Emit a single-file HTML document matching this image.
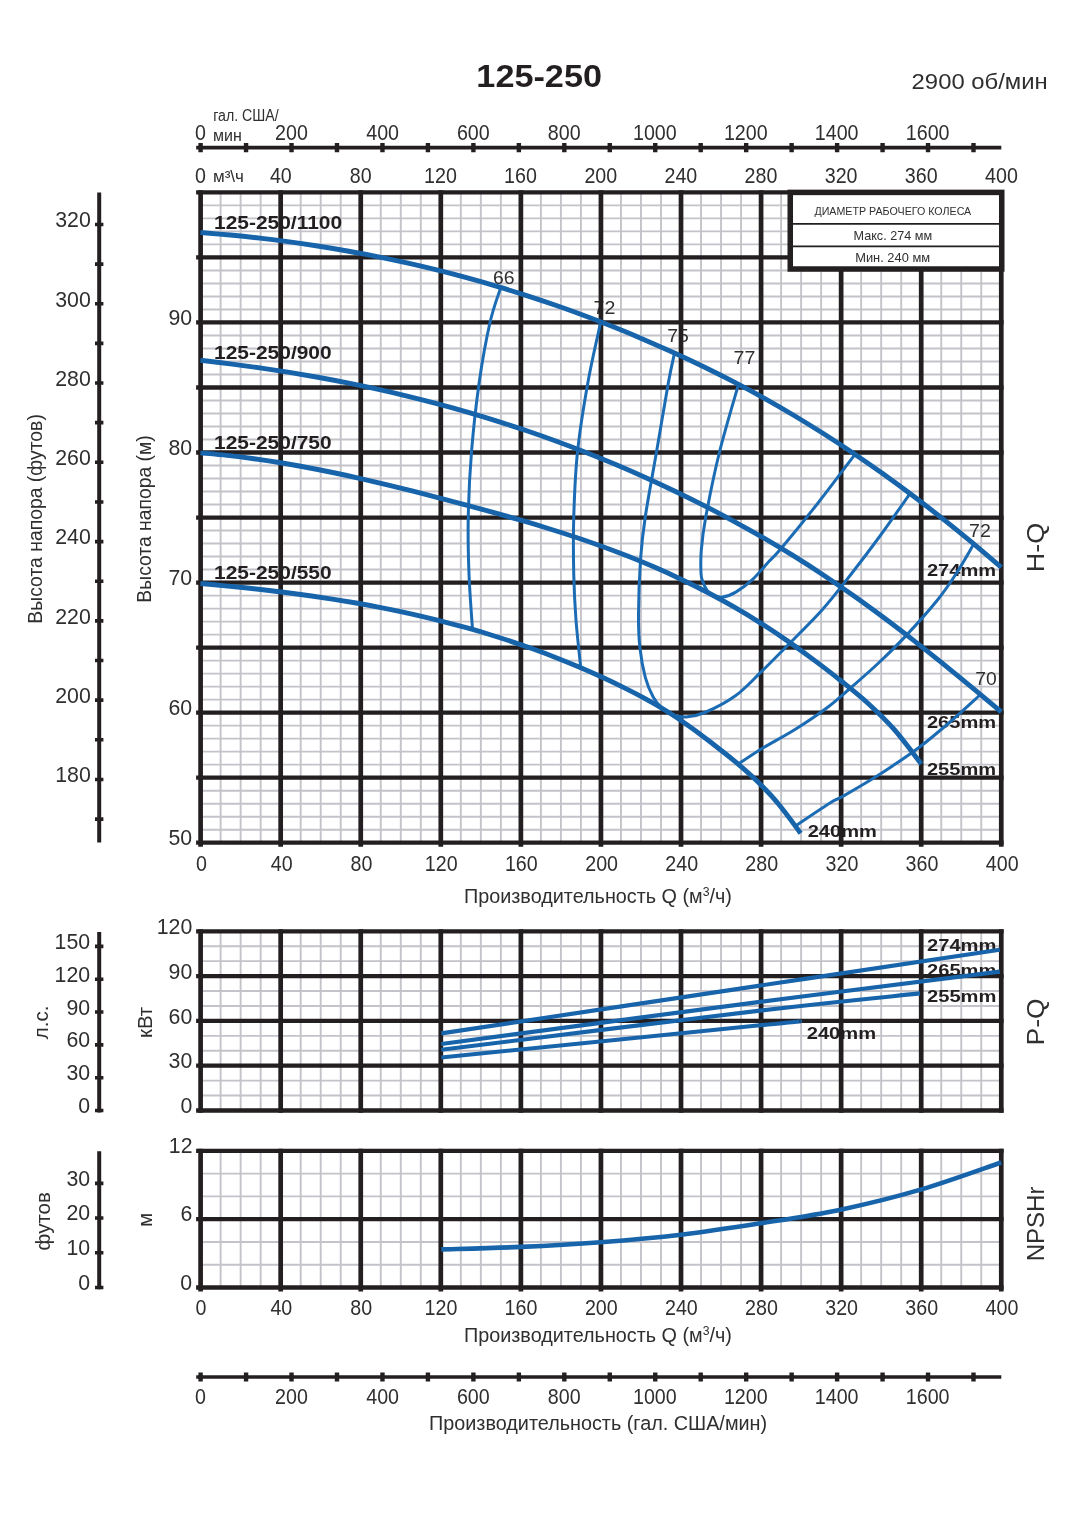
<!DOCTYPE html>
<html lang="ru"><head><meta charset="utf-8"><title>125-250</title>
<style>html,body{margin:0;padding:0;background:#fff}svg{display:block}text{font-family:'Liberation Sans', Arial, sans-serif}</style></head><body>
<svg width="1088" height="1538" viewBox="0 0 1088 1538">
<rect width="1088" height="1538" fill="#fff"/>
<text x="476.35" y="87.3" font-size="32" text-anchor="start" fill="#231f20" font-weight="bold" textLength="125.63" lengthAdjust="spacingAndGlyphs" >125-250</text>
<text x="911.61" y="89" font-size="22.4" text-anchor="start" fill="#302e2f" textLength="136.1" lengthAdjust="spacingAndGlyphs" >2900 об/мин</text>
<line x1="196.2" y1="147.6" x2="1001.3" y2="147.6" stroke="#231f20" stroke-width="3.6" />
<path d="M200.6 143V152.2M246.06 143V152.2M291.53 143V152.2M336.99 143V152.2M382.46 143V152.2M427.92 143V152.2M473.39 143V152.2M518.85 143V152.2M564.32 143V152.2M609.78 143V152.2M655.25 143V152.2M700.71 143V152.2M746.18 143V152.2M791.64 143V152.2M837.11 143V152.2M882.57 143V152.2M928.03 143V152.2M973.5 143V152.2" fill="none" stroke="#231f20" stroke-width="4.4" />
<text x="195.1" y="140" font-size="21.6" text-anchor="start" fill="#302e2f" textLength="10.93" lengthAdjust="spacingAndGlyphs" >0</text>
<text x="275.02" y="140" font-size="21.6" text-anchor="start" fill="#302e2f" textLength="32.8" lengthAdjust="spacingAndGlyphs" >200</text>
<text x="366.24" y="140" font-size="21.6" text-anchor="start" fill="#302e2f" textLength="32.8" lengthAdjust="spacingAndGlyphs" >400</text>
<text x="456.88" y="140" font-size="21.6" text-anchor="start" fill="#302e2f" textLength="32.8" lengthAdjust="spacingAndGlyphs" >600</text>
<text x="547.86" y="140" font-size="21.6" text-anchor="start" fill="#302e2f" textLength="32.8" lengthAdjust="spacingAndGlyphs" >800</text>
<text x="632.99" y="140" font-size="21.6" text-anchor="start" fill="#302e2f" textLength="43.73" lengthAdjust="spacingAndGlyphs" >1000</text>
<text x="723.92" y="140" font-size="21.6" text-anchor="start" fill="#302e2f" textLength="43.73" lengthAdjust="spacingAndGlyphs" >1200</text>
<text x="814.84" y="140" font-size="21.6" text-anchor="start" fill="#302e2f" textLength="43.73" lengthAdjust="spacingAndGlyphs" >1400</text>
<text x="905.77" y="140" font-size="21.6" text-anchor="start" fill="#302e2f" textLength="43.73" lengthAdjust="spacingAndGlyphs" >1600</text>
<text x="213.21" y="121.2" font-size="15.6" text-anchor="start" fill="#302e2f" textLength="65.55" lengthAdjust="spacingAndGlyphs" >гал. США/</text>
<text x="213.08" y="141.4" font-size="15.6" text-anchor="start" fill="#302e2f" textLength="28.82" lengthAdjust="spacingAndGlyphs" >мин</text>
<text x="195.1" y="183.3" font-size="21.6" text-anchor="start" fill="#302e2f" textLength="10.93" lengthAdjust="spacingAndGlyphs" >0</text>
<text x="269.91" y="183.3" font-size="21.6" text-anchor="start" fill="#302e2f" textLength="21.86" lengthAdjust="spacingAndGlyphs" >40</text>
<text x="349.73" y="183.3" font-size="21.6" text-anchor="start" fill="#302e2f" textLength="21.86" lengthAdjust="spacingAndGlyphs" >80</text>
<text x="424.05" y="183.3" font-size="21.6" text-anchor="start" fill="#302e2f" textLength="32.8" lengthAdjust="spacingAndGlyphs" >120</text>
<text x="504.12" y="183.3" font-size="21.6" text-anchor="start" fill="#302e2f" textLength="32.8" lengthAdjust="spacingAndGlyphs" >160</text>
<text x="584.43" y="183.3" font-size="21.6" text-anchor="start" fill="#302e2f" textLength="32.8" lengthAdjust="spacingAndGlyphs" >200</text>
<text x="664.5" y="183.3" font-size="21.6" text-anchor="start" fill="#302e2f" textLength="32.8" lengthAdjust="spacingAndGlyphs" >240</text>
<text x="744.56" y="183.3" font-size="21.6" text-anchor="start" fill="#302e2f" textLength="32.8" lengthAdjust="spacingAndGlyphs" >280</text>
<text x="824.73" y="183.3" font-size="21.6" text-anchor="start" fill="#302e2f" textLength="32.8" lengthAdjust="spacingAndGlyphs" >320</text>
<text x="904.8" y="183.3" font-size="21.6" text-anchor="start" fill="#302e2f" textLength="32.8" lengthAdjust="spacingAndGlyphs" >360</text>
<text x="985.06" y="183.3" font-size="21.6" text-anchor="start" fill="#302e2f" textLength="32.8" lengthAdjust="spacingAndGlyphs" >400</text>
<text x="213.01" y="181.9" font-size="15.6" text-anchor="start" fill="#302e2f" textLength="30.97" lengthAdjust="spacingAndGlyphs" >м³\ч</text>
<path d="M220.62 192.4V842.7M240.63 192.4V842.7M260.65 192.4V842.7M300.69 192.4V842.7M320.7 192.4V842.7M340.72 192.4V842.7M380.75 192.4V842.7M400.77 192.4V842.7M420.79 192.4V842.7M460.82 192.4V842.7M480.84 192.4V842.7M500.86 192.4V842.7M540.89 192.4V842.7M560.91 192.4V842.7M580.92 192.4V842.7M620.96 192.4V842.7M640.97 192.4V842.7M660.99 192.4V842.7M701.02 192.4V842.7M721.04 192.4V842.7M741.06 192.4V842.7M781.09 192.4V842.7M801.11 192.4V842.7M821.13 192.4V842.7M861.16 192.4V842.7M881.18 192.4V842.7M901.2 192.4V842.7M941.23 192.4V842.7M961.25 192.4V842.7M981.26 192.4V842.7M200.6 205.41H1001.28M200.6 218.41H1001.28M200.6 231.42H1001.28M200.6 244.42H1001.28M200.6 270.44H1001.28M200.6 283.44H1001.28M200.6 296.45H1001.28M200.6 309.45H1001.28M200.6 335.47H1001.28M200.6 348.47H1001.28M200.6 361.48H1001.28M200.6 374.48H1001.28M200.6 400.5H1001.28M200.6 413.5H1001.28M200.6 426.51H1001.28M200.6 439.51H1001.28M200.6 465.53H1001.28M200.6 478.53H1001.28M200.6 491.54H1001.28M200.6 504.54H1001.28M200.6 530.56H1001.28M200.6 543.56H1001.28M200.6 556.57H1001.28M200.6 569.57H1001.28M200.6 595.59H1001.28M200.6 608.59H1001.28M200.6 621.6H1001.28M200.6 634.6H1001.28M200.6 660.62H1001.28M200.6 673.62H1001.28M200.6 686.63H1001.28M200.6 699.63H1001.28M200.6 725.65H1001.28M200.6 738.65H1001.28M200.6 751.66H1001.28M200.6 764.66H1001.28M200.6 790.68H1001.28M200.6 803.68H1001.28M200.6 816.69H1001.28M200.6 829.69H1001.28" fill="none" stroke="#c3c3c9" stroke-width="1.9" />
<text x="214.04" y="229.3" font-size="17.6" text-anchor="start" fill="#231f20" font-weight="bold" textLength="128.09" lengthAdjust="spacingAndGlyphs" >125-250/1100</text>
<text x="214.04" y="359" font-size="17.6" text-anchor="start" fill="#231f20" font-weight="bold" textLength="117.62" lengthAdjust="spacingAndGlyphs" >125-250/900</text>
<text x="214.04" y="449" font-size="17.6" text-anchor="start" fill="#231f20" font-weight="bold" textLength="117.62" lengthAdjust="spacingAndGlyphs" >125-250/750</text>
<text x="214.04" y="578.6" font-size="17.6" text-anchor="start" fill="#231f20" font-weight="bold" textLength="117.62" lengthAdjust="spacingAndGlyphs" >125-250/550</text>
<text x="493.03" y="283.8" font-size="18.5" text-anchor="start" fill="#302e2f" textLength="21.59" lengthAdjust="spacingAndGlyphs" >66</text>
<text x="593.52" y="313.8" font-size="18.5" text-anchor="start" fill="#302e2f" textLength="21.81" lengthAdjust="spacingAndGlyphs" >72</text>
<text x="667.33" y="342" font-size="18.5" text-anchor="start" fill="#302e2f" textLength="21.59" lengthAdjust="spacingAndGlyphs" >75</text>
<text x="733.62" y="364.3" font-size="18.5" text-anchor="start" fill="#302e2f" textLength="21.81" lengthAdjust="spacingAndGlyphs" >77</text>
<text x="969.02" y="536.5" font-size="18.5" text-anchor="start" fill="#302e2f" textLength="21.81" lengthAdjust="spacingAndGlyphs" >72</text>
<text x="975.33" y="685.3" font-size="18.5" text-anchor="start" fill="#302e2f" textLength="21.49" lengthAdjust="spacingAndGlyphs" >70</text>
<text x="926.9" y="575.9" font-size="16.6" text-anchor="start" fill="#231f20" font-weight="bold" textLength="69.24" lengthAdjust="spacingAndGlyphs" >274mm</text>
<text x="926.9" y="727.8" font-size="16.6" text-anchor="start" fill="#231f20" font-weight="bold" textLength="69.24" lengthAdjust="spacingAndGlyphs" >265mm</text>
<text x="926.9" y="775" font-size="16.6" text-anchor="start" fill="#231f20" font-weight="bold" textLength="69.24" lengthAdjust="spacingAndGlyphs" >255mm</text>
<text x="807.7" y="837" font-size="16.6" text-anchor="start" fill="#231f20" font-weight="bold" textLength="69.24" lengthAdjust="spacingAndGlyphs" >240mm</text>
<path d="M200.6 190.3V846.7M280.67 190.3V846.7M360.74 190.3V846.7M440.8 190.3V846.7M520.87 190.3V846.7M600.94 190.3V846.7M681.01 190.3V846.7M761.08 190.3V846.7M841.14 190.3V846.7M921.21 190.3V846.7M1001.28 190.3V846.7" fill="none" stroke="#231f20" stroke-width="4.7" />
<path d="M196.1 192.4H1003.58M196.1 257.43H1003.58M196.1 322.46H1003.58M196.1 387.49H1003.58M196.1 452.52H1003.58M196.1 517.55H1003.58M196.1 582.58H1003.58M196.1 647.61H1003.58M196.1 712.64H1003.58M196.1 777.67H1003.58M196.1 842.7H1003.58" fill="none" stroke="#231f20" stroke-width="4.3" />
<path d="M500.75 287.51C498.96 293.34 493.58 306.75 490 322.5C486.42 338.25 482.33 360.42 479.25 382C476.17 403.58 473.33 429.5 471.5 452C469.67 474.5 468.67 496.67 468.25 517C467.83 537.33 468.29 555.26 469 574C469.71 592.74 471.92 620.22 472.5 629.46" fill="none" stroke="#1b6cb4" stroke-width="3.0" stroke-linecap="butt"/>
<path d="M600.75 321.9C598.62 331.92 591.88 360.32 588 382C584.12 403.68 579.88 429.5 577.5 452C575.12 474.5 574.38 496.67 573.75 517C573.12 537.33 573.38 556.83 573.75 574C574.12 591.17 574.83 604.38 576 620C577.17 635.62 579.96 659.78 580.75 667.74" fill="none" stroke="#1b6cb4" stroke-width="3.0" stroke-linecap="butt"/>
<path d="M674.5 353.03C673.5 357.86 671.5 365.51 668.5 382C665.5 398.49 660.38 429.5 656.5 452C652.62 474.5 647.92 499 645.25 517C642.58 535 641.62 543.75 640.5 560C639.38 576.25 638.6 599.92 638.5 614.5C638.4 629.08 638.77 637.03 639.9 647.5C641.03 657.97 643.07 669.02 645.3 677.3C647.53 685.58 650.42 691.95 653.3 697.2C656.18 702.45 659.4 705.9 662.6 708.8C665.8 711.7 668.57 713.23 672.5 714.6C676.43 715.97 680.62 717.43 686.2 717C691.78 716.57 697.73 715.58 706 712C714.27 708.42 726.7 702.1 735.8 695.5C744.9 688.9 752.07 680.65 760.6 672.4C769.13 664.15 776.68 656.48 787 646C797.32 635.52 811.79 621.5 822.5 609.5C833.21 597.5 841.67 586.25 851.25 574C860.83 561.75 870.21 549.4 880 536C889.79 522.6 905 500.66 910 493.59" fill="none" stroke="#1b6cb4" stroke-width="3.0" stroke-linecap="butt"/>
<path d="M738.5 384.35C735.33 395.63 724.96 429.89 719.5 452C714.04 474.11 708.78 500.67 705.75 517C702.72 533.33 702.09 540.67 701.3 550C700.51 559.33 700.77 567.77 701 573C701.23 578.23 701.58 578.35 702.7 581.4C703.82 584.45 706.03 588.97 707.7 591.3C709.37 593.63 710.22 594.43 712.7 595.4C715.18 596.37 718.75 597.65 722.6 597.1C726.45 596.55 730.83 595 735.8 592.1C740.77 589.2 746.88 584.8 752.4 579.7C757.92 574.6 764.08 566.73 768.9 561.5C773.72 556.27 773.12 558.05 781.3 548.3C789.48 538.55 805.72 518.66 818 503C830.28 487.34 848.83 462.46 855 454.35" fill="none" stroke="#1b6cb4" stroke-width="3.0" stroke-linecap="butt"/>
<path d="M973.75 544.01C970.79 549.01 962.04 564.67 956 574C949.96 583.33 945.82 589.73 937.5 600C929.18 610.27 916.02 625.02 906.1 635.6C896.18 646.18 887.37 654.68 878 663.5C868.63 672.32 858.57 681 849.9 688.5C841.23 696 835.15 701.67 826 708.5C816.85 715.33 805.79 722.75 795 729.5C784.21 736.25 770.72 743.23 761.25 749C751.78 754.77 742.04 761.62 738.2 764.14" fill="none" stroke="#1b6cb4" stroke-width="3.0" stroke-linecap="butt"/>
<path d="M980.5 694.5C975.42 699.08 960.2 713.2 950 722C939.8 730.8 928.88 739.97 919.3 747.3C909.72 754.63 900.48 760.63 892.5 766C884.52 771.37 879.77 774.4 871.4 779.5C863.03 784.6 849.2 792.7 842.3 796.6C835.4 800.5 837.8 798.03 830 802.9C822.2 807.77 801.25 822.01 795.5 825.83" fill="none" stroke="#1b6cb4" stroke-width="3.0" stroke-linecap="butt"/>
<path d="M200.5 232.54C205.44 232.96 220.27 234.12 230.16 235.05C240.04 235.99 249.93 237.02 259.81 238.16C269.7 239.3 279.59 240.54 289.47 241.88C299.36 243.22 309.24 244.67 319.13 246.23C329.02 247.78 338.9 249.44 348.79 251.22C358.67 252.99 368.56 254.87 378.44 256.87C388.33 258.87 398.22 260.98 408.1 263.2C417.99 265.43 427.87 267.77 437.76 270.22C447.65 272.68 457.53 275.26 467.42 277.96C477.3 280.65 487.19 283.47 497.07 286.41C506.96 289.35 516.85 292.42 526.73 295.61C536.62 298.8 546.5 302.12 556.39 305.56C566.27 309.01 576.16 312.58 586.05 316.29C595.93 320 605.82 323.83 615.7 327.8C625.59 331.78 635.48 335.88 645.36 340.13C655.25 344.37 665.13 348.75 675.02 353.27C684.9 357.79 694.79 362.44 704.68 367.26C714.56 372.07 724.45 377.03 734.33 382.18C744.22 387.33 754.1 392.63 763.99 398.15C773.88 403.67 783.76 409.37 793.65 415.27C803.53 421.17 813.42 427.26 823.31 433.54C833.19 439.83 843.08 446.31 852.96 452.98C862.85 459.65 872.73 466.51 882.62 473.56C892.51 480.62 902.39 487.86 912.28 495.3C922.16 502.73 932.05 510.36 941.94 518.18C951.82 526 961.71 534.01 971.59 542.21C981.48 550.42 996.31 563.19 1001.25 567.39" fill="none" stroke="#1764ab" stroke-width="4.9" />
<path d="M200.5 360.3C205.44 360.89 220.27 362.58 230.16 363.84C240.04 365.1 249.93 366.44 259.81 367.87C269.7 369.3 279.59 370.81 289.47 372.42C299.36 374.03 309.24 375.72 319.13 377.51C329.02 379.31 338.9 381.19 348.79 383.18C358.67 385.17 368.56 387.25 378.44 389.45C388.33 391.64 398.22 393.93 408.1 396.34C417.99 398.75 427.87 401.26 437.76 403.89C447.65 406.52 457.53 409.26 467.42 412.13C477.3 414.99 487.19 417.97 497.07 421.07C506.96 424.18 516.85 427.4 526.73 430.76C536.62 434.12 546.5 437.59 556.39 441.21C566.27 444.83 576.16 448.57 586.05 452.46C595.93 456.34 605.82 460.36 615.7 464.52C625.59 468.69 635.48 472.99 645.36 477.44C655.25 481.89 665.13 486.48 675.02 491.23C684.9 495.98 694.79 500.87 704.68 505.92C714.56 510.98 724.45 516.18 734.33 521.55C744.22 526.92 754.1 532.44 763.99 538.16C773.88 543.89 783.76 549.78 793.65 555.91C803.53 562.04 813.42 568.36 823.31 574.92C833.19 581.48 843.08 588.28 852.96 595.26C862.85 602.24 872.73 609.46 882.62 616.82C892.51 624.18 902.39 631.74 912.28 639.42C922.16 647.11 932.05 654.96 941.94 662.91C951.82 670.86 961.71 678.96 971.59 687.12C981.48 695.28 996.31 707.75 1001.25 711.87" fill="none" stroke="#1764ab" stroke-width="4.9" />
<path d="M200.5 452.89C204.95 453.31 218.3 454.42 227.19 455.39C236.09 456.36 244.99 457.47 253.89 458.7C262.79 459.93 271.69 461.29 280.58 462.75C289.48 464.22 298.38 465.8 307.28 467.47C316.18 469.14 325.07 470.92 333.97 472.77C342.87 474.62 351.77 476.57 360.67 478.58C369.56 480.59 378.46 482.69 387.36 484.83C396.26 486.97 405.16 489.18 414.06 491.43C422.95 493.67 431.85 495.98 440.75 498.31C449.65 500.63 458.55 503 467.44 505.39C476.34 507.78 485.24 510.18 494.14 512.66C503.04 515.13 511.94 517.63 520.83 520.22C529.73 522.81 538.63 525.46 547.53 528.22C556.43 530.97 565.32 533.8 574.22 536.77C583.12 539.73 592.02 542.79 600.92 546.01C609.81 549.23 618.71 552.56 627.61 556.08C636.51 559.59 645.41 563.24 654.31 567.09C663.2 570.94 672.1 574.95 681 579.19C689.9 583.42 698.8 587.84 707.69 592.5C716.59 597.17 725.49 602.03 734.39 607.18C743.29 612.32 752.19 617.7 761.08 623.36C769.98 629.02 778.88 634.96 787.78 641.13C796.68 647.31 805.57 653.75 814.47 660.4C823.37 667.04 832.27 673.83 841.17 680.98C850.06 688.13 858.96 695.12 867.86 703.27C876.76 711.42 885.66 719.76 894.56 729.87C903.45 739.97 916.8 758.24 921.25 763.92" fill="none" stroke="#1764ab" stroke-width="4.9" />
<path d="M200.5 583.56C204.2 583.9 215.32 584.87 222.73 585.57C230.14 586.28 237.55 587.01 244.96 587.79C252.37 588.57 259.78 589.38 267.19 590.24C274.6 591.1 282.01 592 289.42 592.96C296.83 593.91 304.24 594.91 311.65 595.97C319.06 597.03 326.47 598.13 333.88 599.31C341.29 600.48 348.7 601.71 356.11 603.01C363.52 604.3 370.93 605.66 378.34 607.1C385.75 608.53 393.16 610.03 400.57 611.61C407.98 613.18 415.39 614.83 422.8 616.57C430.21 618.3 437.62 620.11 445.03 622.02C452.44 623.92 459.85 625.9 467.26 627.98C474.67 630.06 482.08 632.22 489.49 634.49C496.9 636.76 504.3 639.11 511.71 641.58C519.12 644.05 526.53 646.62 533.94 649.3C541.35 651.98 548.76 654.76 556.17 657.67C563.58 660.58 570.99 663.59 578.4 666.74C585.81 669.88 593.22 673.14 600.63 676.54C608.04 679.93 615.45 683.42 622.86 687.1C630.27 690.78 637.68 694.52 645.09 698.6C652.5 702.67 659.91 706.89 667.32 711.54C674.73 716.18 682.14 721.22 689.55 726.47C696.96 731.73 704.37 737.37 711.78 743.06C719.19 748.76 726.6 754.42 734.01 760.64C741.42 766.85 748.83 773.13 756.24 780.35C763.65 787.57 771.06 795.13 778.47 803.96C785.88 812.79 797 828.42 800.7 833.31" fill="none" stroke="#1764ab" stroke-width="4.9" />
<rect x="790.25" y="192.4" width="211.5" height="76.6" fill="#fff" stroke="#231f20" stroke-width="5.5"/>
<line x1="793" y1="223.9" x2="999" y2="223.9" stroke="#231f20" stroke-width="1.8" />
<line x1="793" y1="246.4" x2="999" y2="246.4" stroke="#231f20" stroke-width="1.8" />
<text x="814.45" y="215" font-size="11.4" text-anchor="start" fill="#302e2f" textLength="156.8" lengthAdjust="spacingAndGlyphs" >ДИАМЕТР РАБОЧЕГО КОЛЕСА</text>
<text x="853.49" y="240.1" font-size="12.4" text-anchor="start" fill="#302e2f" textLength="78.6" lengthAdjust="spacingAndGlyphs" >Макс. 274 мм</text>
<text x="855.22" y="262" font-size="12.4" text-anchor="start" fill="#302e2f" textLength="74.88" lengthAdjust="spacingAndGlyphs" >Мин. 240 мм</text>
<text x="195.9" y="870.6" font-size="21.6" text-anchor="start" fill="#302e2f" textLength="10.93" lengthAdjust="spacingAndGlyphs" >0</text>
<text x="270.71" y="870.6" font-size="21.6" text-anchor="start" fill="#302e2f" textLength="21.86" lengthAdjust="spacingAndGlyphs" >40</text>
<text x="350.53" y="870.6" font-size="21.6" text-anchor="start" fill="#302e2f" textLength="21.86" lengthAdjust="spacingAndGlyphs" >80</text>
<text x="424.85" y="870.6" font-size="21.6" text-anchor="start" fill="#302e2f" textLength="32.8" lengthAdjust="spacingAndGlyphs" >120</text>
<text x="504.92" y="870.6" font-size="21.6" text-anchor="start" fill="#302e2f" textLength="32.8" lengthAdjust="spacingAndGlyphs" >160</text>
<text x="585.23" y="870.6" font-size="21.6" text-anchor="start" fill="#302e2f" textLength="32.8" lengthAdjust="spacingAndGlyphs" >200</text>
<text x="665.3" y="870.6" font-size="21.6" text-anchor="start" fill="#302e2f" textLength="32.8" lengthAdjust="spacingAndGlyphs" >240</text>
<text x="745.36" y="870.6" font-size="21.6" text-anchor="start" fill="#302e2f" textLength="32.8" lengthAdjust="spacingAndGlyphs" >280</text>
<text x="825.53" y="870.6" font-size="21.6" text-anchor="start" fill="#302e2f" textLength="32.8" lengthAdjust="spacingAndGlyphs" >320</text>
<text x="905.6" y="870.6" font-size="21.6" text-anchor="start" fill="#302e2f" textLength="32.8" lengthAdjust="spacingAndGlyphs" >360</text>
<text x="985.86" y="870.6" font-size="21.6" text-anchor="start" fill="#302e2f" textLength="32.8" lengthAdjust="spacingAndGlyphs" >400</text>
<text x="464.02" y="902.8" font-size="19.4" text-anchor="start" fill="#302e2f" textLength="267.88" lengthAdjust="spacingAndGlyphs" >Производительность Q (м<tspan font-size="12" dy="-6.5">3</tspan><tspan dy="6.5">/ч)</tspan></text>
<line x1="99.2" y1="192.6" x2="99.2" y2="842.5" stroke="#231f20" stroke-width="4.0" />
<path d="M95 819.08H103.4M95 779.44H103.4M95 739.8H103.4M95 700.15H103.4M95 660.51H103.4M95 620.87H103.4M95 581.23H103.4M95 541.59H103.4M95 501.94H103.4M95 462.3H103.4M95 422.66H103.4M95 383.02H103.4M95 343.37H103.4M95 303.73H103.4M95 264.09H103.4M95 224.45H103.4" fill="none" stroke="#231f20" stroke-width="3.6" />
<text x="55.28" y="782.24" font-size="21.3" text-anchor="start" fill="#302e2f" textLength="35.54" lengthAdjust="spacingAndGlyphs" >180</text>
<text x="55.28" y="702.95" font-size="21.3" text-anchor="start" fill="#302e2f" textLength="35.54" lengthAdjust="spacingAndGlyphs" >200</text>
<text x="55.28" y="623.67" font-size="21.3" text-anchor="start" fill="#302e2f" textLength="35.54" lengthAdjust="spacingAndGlyphs" >220</text>
<text x="55.28" y="544.39" font-size="21.3" text-anchor="start" fill="#302e2f" textLength="35.54" lengthAdjust="spacingAndGlyphs" >240</text>
<text x="55.28" y="465.1" font-size="21.3" text-anchor="start" fill="#302e2f" textLength="35.54" lengthAdjust="spacingAndGlyphs" >260</text>
<text x="55.28" y="385.82" font-size="21.3" text-anchor="start" fill="#302e2f" textLength="35.54" lengthAdjust="spacingAndGlyphs" >280</text>
<text x="55.28" y="306.53" font-size="21.3" text-anchor="start" fill="#302e2f" textLength="35.54" lengthAdjust="spacingAndGlyphs" >300</text>
<text x="55.28" y="227.25" font-size="21.3" text-anchor="start" fill="#302e2f" textLength="35.54" lengthAdjust="spacingAndGlyphs" >320</text>
<text x="168.5" y="844.8" font-size="21.3" text-anchor="start" fill="#302e2f" textLength="23.69" lengthAdjust="spacingAndGlyphs" >50</text>
<text x="168.5" y="715.34" font-size="21.3" text-anchor="start" fill="#302e2f" textLength="23.69" lengthAdjust="spacingAndGlyphs" >60</text>
<text x="168.5" y="585.28" font-size="21.3" text-anchor="start" fill="#302e2f" textLength="23.69" lengthAdjust="spacingAndGlyphs" >70</text>
<text x="168.5" y="455.22" font-size="21.3" text-anchor="start" fill="#302e2f" textLength="23.69" lengthAdjust="spacingAndGlyphs" >80</text>
<text x="168.5" y="325.16" font-size="21.3" text-anchor="start" fill="#302e2f" textLength="23.69" lengthAdjust="spacingAndGlyphs" >90</text>
<text x="42" y="623.65" font-size="19.6" text-anchor="start" fill="#302e2f" textLength="209.51" lengthAdjust="spacingAndGlyphs" transform="rotate(-90 42 623.65)" >Высота напора (футов)</text>
<text x="151.4" y="602.65" font-size="19.6" text-anchor="start" fill="#302e2f" textLength="167.44" lengthAdjust="spacingAndGlyphs" transform="rotate(-90 151.4 602.65)" >Высота напора (м)</text>
<text x="1044.3" y="572.37" font-size="24.6" text-anchor="start" fill="#302e2f" textLength="49.67" lengthAdjust="spacingAndGlyphs" transform="rotate(-90 1044.3 572.37)" >H-Q</text>
<path d="M220.62 931.3V1110.5M240.63 931.3V1110.5M260.65 931.3V1110.5M300.69 931.3V1110.5M320.7 931.3V1110.5M340.72 931.3V1110.5M380.75 931.3V1110.5M400.77 931.3V1110.5M420.79 931.3V1110.5M460.82 931.3V1110.5M480.84 931.3V1110.5M500.86 931.3V1110.5M540.89 931.3V1110.5M560.91 931.3V1110.5M580.92 931.3V1110.5M620.96 931.3V1110.5M640.97 931.3V1110.5M660.99 931.3V1110.5M701.02 931.3V1110.5M721.04 931.3V1110.5M741.06 931.3V1110.5M781.09 931.3V1110.5M801.11 931.3V1110.5M821.13 931.3V1110.5M861.16 931.3V1110.5M881.18 931.3V1110.5M901.2 931.3V1110.5M941.23 931.3V1110.5M961.25 931.3V1110.5M981.26 931.3V1110.5M200.6 946.23H1001.28M200.6 961.17H1001.28M200.6 991.03H1001.28M200.6 1005.97H1001.28M200.6 1035.83H1001.28M200.6 1050.77H1001.28M200.6 1080.63H1001.28M200.6 1095.57H1001.28" fill="none" stroke="#c3c3c9" stroke-width="1.9" />
<text x="926.99" y="951.3" font-size="16.6" text-anchor="start" fill="#231f20" font-weight="bold" textLength="69.45" lengthAdjust="spacingAndGlyphs" >274mm</text>
<text x="926.99" y="976.3" font-size="16.6" text-anchor="start" fill="#231f20" font-weight="bold" textLength="69.45" lengthAdjust="spacingAndGlyphs" >265mm</text>
<text x="926.99" y="1001.9" font-size="16.6" text-anchor="start" fill="#231f20" font-weight="bold" textLength="69.45" lengthAdjust="spacingAndGlyphs" >255mm</text>
<text x="806.69" y="1038.8" font-size="16.6" text-anchor="start" fill="#231f20" font-weight="bold" textLength="69.45" lengthAdjust="spacingAndGlyphs" >240mm</text>
<path d="M200.6 929.2V1112.75M280.67 929.2V1112.75M360.74 929.2V1112.75M440.8 929.2V1112.75M520.87 929.2V1112.75M600.94 929.2V1112.75M681.01 929.2V1112.75M761.08 929.2V1112.75M841.14 929.2V1112.75M921.21 929.2V1112.75M1001.28 929.2V1112.75" fill="none" stroke="#231f20" stroke-width="4.7" />
<path d="M196.1 931.3H1003.58M196.1 976.1H1003.58M196.1 1020.9H1003.58M196.1 1065.7H1003.58M196.1 1110.5H1003.58" fill="none" stroke="#231f20" stroke-width="4.3" />
<path d="M441.25 1033.4C494.38 1025.43 666.91 999.55 760 985.6C853.09 971.65 959.83 955.68 999.8 949.7" fill="none" stroke="#1764ab" stroke-width="4.1" />
<path d="M441.25 1044C494.38 1036.98 666.91 1013.97 760 1001.9C853.09 989.83 959.83 976.65 999.8 971.6" fill="none" stroke="#1764ab" stroke-width="4.1" />
<path d="M441.25 1049.7C494.38 1043.18 680.23 1019.98 760 1010.6C839.77 1001.22 893.25 996.27 919.9 993.4" fill="none" stroke="#1764ab" stroke-width="4.1" />
<path d="M441.25 1057.5C494.38 1052.13 700.27 1031.28 760 1025.3C819.73 1019.32 793 1022.22 799.6 1021.6" fill="none" stroke="#1764ab" stroke-width="4.1" />
<text x="180.42" y="1113.2" font-size="21.3" text-anchor="start" fill="#302e2f" textLength="11.85" lengthAdjust="spacingAndGlyphs" >0</text>
<text x="168.6" y="1068.4" font-size="21.3" text-anchor="start" fill="#302e2f" textLength="23.69" lengthAdjust="spacingAndGlyphs" >30</text>
<text x="168.6" y="1023.6" font-size="21.3" text-anchor="start" fill="#302e2f" textLength="23.69" lengthAdjust="spacingAndGlyphs" >60</text>
<text x="168.6" y="978.8" font-size="21.3" text-anchor="start" fill="#302e2f" textLength="23.69" lengthAdjust="spacingAndGlyphs" >90</text>
<text x="156.78" y="933.5" font-size="21.3" text-anchor="start" fill="#302e2f" textLength="35.54" lengthAdjust="spacingAndGlyphs" >120</text>
<line x1="99.2" y1="932" x2="99.2" y2="1112.4" stroke="#231f20" stroke-width="4.0" />
<path d="M95 1110.5H103.4M95 1077.68H103.4M95 1044.87H103.4M95 1012.05H103.4M95 979.24H103.4M95 946.42H103.4" fill="none" stroke="#231f20" stroke-width="3.6" />
<text x="78.22" y="1113" font-size="21.3" text-anchor="start" fill="#302e2f" textLength="11.85" lengthAdjust="spacingAndGlyphs" >0</text>
<text x="66.4" y="1080.18" font-size="21.3" text-anchor="start" fill="#302e2f" textLength="23.69" lengthAdjust="spacingAndGlyphs" >30</text>
<text x="66.4" y="1047.37" font-size="21.3" text-anchor="start" fill="#302e2f" textLength="23.69" lengthAdjust="spacingAndGlyphs" >60</text>
<text x="66.4" y="1014.55" font-size="21.3" text-anchor="start" fill="#302e2f" textLength="23.69" lengthAdjust="spacingAndGlyphs" >90</text>
<text x="54.58" y="981.74" font-size="21.3" text-anchor="start" fill="#302e2f" textLength="35.54" lengthAdjust="spacingAndGlyphs" >120</text>
<text x="54.58" y="948.92" font-size="21.3" text-anchor="start" fill="#302e2f" textLength="35.54" lengthAdjust="spacingAndGlyphs" >150</text>
<text x="48.1" y="1022.4" font-size="20.5" text-anchor="middle" fill="#302e2f" transform="rotate(-90 48.1 1022.4)" >л.с.</text>
<text x="151.8" y="1022.4" font-size="20.5" text-anchor="middle" fill="#302e2f" transform="rotate(-90 151.8 1022.4)" >кВт</text>
<text x="1044.3" y="1045.52" font-size="24.6" text-anchor="start" fill="#302e2f" textLength="47.09" lengthAdjust="spacingAndGlyphs" transform="rotate(-90 1044.3 1045.52)" >P-Q</text>
<path d="M220.62 1150.8V1287.5M240.63 1150.8V1287.5M260.65 1150.8V1287.5M300.69 1150.8V1287.5M320.7 1150.8V1287.5M340.72 1150.8V1287.5M380.75 1150.8V1287.5M400.77 1150.8V1287.5M420.79 1150.8V1287.5M460.82 1150.8V1287.5M480.84 1150.8V1287.5M500.86 1150.8V1287.5M540.89 1150.8V1287.5M560.91 1150.8V1287.5M580.92 1150.8V1287.5M620.96 1150.8V1287.5M640.97 1150.8V1287.5M660.99 1150.8V1287.5M701.02 1150.8V1287.5M721.04 1150.8V1287.5M741.06 1150.8V1287.5M781.09 1150.8V1287.5M801.11 1150.8V1287.5M821.13 1150.8V1287.5M861.16 1150.8V1287.5M881.18 1150.8V1287.5M901.2 1150.8V1287.5M941.23 1150.8V1287.5M961.25 1150.8V1287.5M981.26 1150.8V1287.5M200.6 1173.58H1001.28M200.6 1196.37H1001.28M200.6 1241.93H1001.28M200.6 1264.72H1001.28" fill="none" stroke="#c3c3c9" stroke-width="1.9" />
<path d="M200.6 1148.7V1291.5M280.67 1148.7V1291.5M360.74 1148.7V1291.5M440.8 1148.7V1291.5M520.87 1148.7V1291.5M600.94 1148.7V1291.5M681.01 1148.7V1291.5M761.08 1148.7V1291.5M841.14 1148.7V1291.5M921.21 1148.7V1291.5M1001.28 1148.7V1291.5" fill="none" stroke="#231f20" stroke-width="4.7" />
<path d="M196.1 1150.8H1003.58M196.1 1219.15H1003.58M196.1 1287.5H1003.58" fill="none" stroke="#231f20" stroke-width="4.3" />
<path d="M441.25 1249.4C454.48 1248.98 494.04 1248.1 520.6 1246.9C547.16 1245.7 573.87 1244.23 600.6 1242.2C627.33 1240.17 654.35 1237.85 681 1234.7C707.65 1231.55 733.71 1227.52 760.5 1223.3C787.29 1219.08 814.93 1215.05 841.75 1209.4C868.57 1203.75 894.84 1197.22 921.4 1189.4C947.96 1181.58 987.82 1166.98 1001.1 1162.5" fill="none" stroke="#1764ab" stroke-width="4.6" />
<text x="180.32" y="1289.8" font-size="21.3" text-anchor="start" fill="#302e2f" textLength="11.85" lengthAdjust="spacingAndGlyphs" >0</text>
<text x="180.43" y="1221.45" font-size="21.3" text-anchor="start" fill="#302e2f" textLength="11.85" lengthAdjust="spacingAndGlyphs" >6</text>
<text x="168.82" y="1153.1" font-size="21.3" text-anchor="start" fill="#302e2f" textLength="23.69" lengthAdjust="spacingAndGlyphs" >12</text>
<line x1="99.2" y1="1151.3" x2="99.2" y2="1289.3" stroke="#231f20" stroke-width="4.0" />
<path d="M95 1287.5H103.4M95 1252.78H103.4M95 1218.06H103.4M95 1183.33H103.4" fill="none" stroke="#231f20" stroke-width="3.6" />
<text x="78.22" y="1289.7" font-size="21.3" text-anchor="start" fill="#302e2f" textLength="11.85" lengthAdjust="spacingAndGlyphs" >0</text>
<text x="66.4" y="1254.98" font-size="21.3" text-anchor="start" fill="#302e2f" textLength="23.69" lengthAdjust="spacingAndGlyphs" >10</text>
<text x="66.4" y="1220.26" font-size="21.3" text-anchor="start" fill="#302e2f" textLength="23.69" lengthAdjust="spacingAndGlyphs" >20</text>
<text x="66.4" y="1185.53" font-size="21.3" text-anchor="start" fill="#302e2f" textLength="23.69" lengthAdjust="spacingAndGlyphs" >30</text>
<text x="50" y="1221.3" font-size="20.5" text-anchor="middle" fill="#302e2f" transform="rotate(-90 50 1221.3)" >футов</text>
<text x="151.5" y="1220" font-size="20.5" text-anchor="middle" fill="#302e2f" transform="rotate(-90 151.5 1220)" >м</text>
<text x="1044.3" y="1261.32" font-size="24.6" text-anchor="start" fill="#302e2f" textLength="74.82" lengthAdjust="spacingAndGlyphs" transform="rotate(-90 1044.3 1261.32)" >NPSHr</text>
<text x="195.6" y="1315" font-size="21.6" text-anchor="start" fill="#302e2f" textLength="10.93" lengthAdjust="spacingAndGlyphs" >0</text>
<text x="270.41" y="1315" font-size="21.6" text-anchor="start" fill="#302e2f" textLength="21.86" lengthAdjust="spacingAndGlyphs" >40</text>
<text x="350.23" y="1315" font-size="21.6" text-anchor="start" fill="#302e2f" textLength="21.86" lengthAdjust="spacingAndGlyphs" >80</text>
<text x="424.55" y="1315" font-size="21.6" text-anchor="start" fill="#302e2f" textLength="32.8" lengthAdjust="spacingAndGlyphs" >120</text>
<text x="504.62" y="1315" font-size="21.6" text-anchor="start" fill="#302e2f" textLength="32.8" lengthAdjust="spacingAndGlyphs" >160</text>
<text x="584.93" y="1315" font-size="21.6" text-anchor="start" fill="#302e2f" textLength="32.8" lengthAdjust="spacingAndGlyphs" >200</text>
<text x="665" y="1315" font-size="21.6" text-anchor="start" fill="#302e2f" textLength="32.8" lengthAdjust="spacingAndGlyphs" >240</text>
<text x="745.06" y="1315" font-size="21.6" text-anchor="start" fill="#302e2f" textLength="32.8" lengthAdjust="spacingAndGlyphs" >280</text>
<text x="825.23" y="1315" font-size="21.6" text-anchor="start" fill="#302e2f" textLength="32.8" lengthAdjust="spacingAndGlyphs" >320</text>
<text x="905.3" y="1315" font-size="21.6" text-anchor="start" fill="#302e2f" textLength="32.8" lengthAdjust="spacingAndGlyphs" >360</text>
<text x="985.56" y="1315" font-size="21.6" text-anchor="start" fill="#302e2f" textLength="32.8" lengthAdjust="spacingAndGlyphs" >400</text>
<text x="464.02" y="1341.5" font-size="19.4" text-anchor="start" fill="#302e2f" textLength="267.88" lengthAdjust="spacingAndGlyphs" >Производительность Q (м<tspan font-size="12" dy="-6.5">3</tspan><tspan dy="6.5">/ч)</tspan></text>
<line x1="196.2" y1="1377" x2="1001.3" y2="1377" stroke="#231f20" stroke-width="3.6" />
<path d="M200.6 1372.4V1381.6M246.06 1372.4V1381.6M291.53 1372.4V1381.6M336.99 1372.4V1381.6M382.46 1372.4V1381.6M427.92 1372.4V1381.6M473.39 1372.4V1381.6M518.85 1372.4V1381.6M564.32 1372.4V1381.6M609.78 1372.4V1381.6M655.25 1372.4V1381.6M700.71 1372.4V1381.6M746.18 1372.4V1381.6M791.64 1372.4V1381.6M837.11 1372.4V1381.6M882.57 1372.4V1381.6M928.03 1372.4V1381.6M973.5 1372.4V1381.6" fill="none" stroke="#231f20" stroke-width="4.4" />
<text x="195.1" y="1404.4" font-size="21.6" text-anchor="start" fill="#302e2f" textLength="10.93" lengthAdjust="spacingAndGlyphs" >0</text>
<text x="275.02" y="1404.4" font-size="21.6" text-anchor="start" fill="#302e2f" textLength="32.8" lengthAdjust="spacingAndGlyphs" >200</text>
<text x="366.24" y="1404.4" font-size="21.6" text-anchor="start" fill="#302e2f" textLength="32.8" lengthAdjust="spacingAndGlyphs" >400</text>
<text x="456.88" y="1404.4" font-size="21.6" text-anchor="start" fill="#302e2f" textLength="32.8" lengthAdjust="spacingAndGlyphs" >600</text>
<text x="547.86" y="1404.4" font-size="21.6" text-anchor="start" fill="#302e2f" textLength="32.8" lengthAdjust="spacingAndGlyphs" >800</text>
<text x="632.99" y="1404.4" font-size="21.6" text-anchor="start" fill="#302e2f" textLength="43.73" lengthAdjust="spacingAndGlyphs" >1000</text>
<text x="723.92" y="1404.4" font-size="21.6" text-anchor="start" fill="#302e2f" textLength="43.73" lengthAdjust="spacingAndGlyphs" >1200</text>
<text x="814.84" y="1404.4" font-size="21.6" text-anchor="start" fill="#302e2f" textLength="43.73" lengthAdjust="spacingAndGlyphs" >1400</text>
<text x="905.77" y="1404.4" font-size="21.6" text-anchor="start" fill="#302e2f" textLength="43.73" lengthAdjust="spacingAndGlyphs" >1600</text>
<text x="429.02" y="1429.7" font-size="19.6" text-anchor="start" fill="#302e2f" textLength="338.08" lengthAdjust="spacingAndGlyphs" >Производительность (гал. США/мин)</text>
</svg></body></html>
